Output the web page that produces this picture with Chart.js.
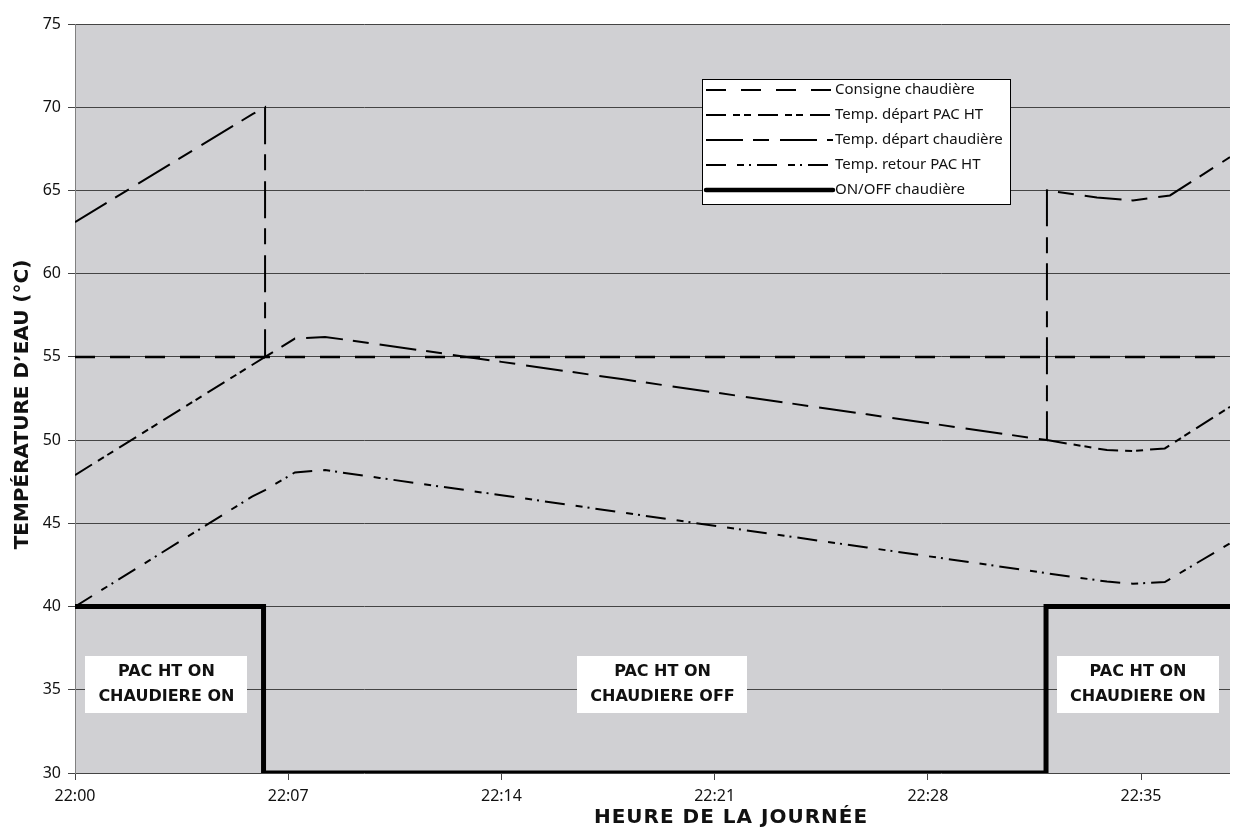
<!DOCTYPE html>
<html>
<head>
<meta charset="utf-8">
<script src="https://cdn.jsdelivr.net/npm/chart.js@4.4.1/dist/chart.umd.min.js"></script>
<style>
  html, body { margin: 0; padding: 0; background: #ffffff; }
  canvas { display: block; }
</style>
</head>
<body>
<canvas id="chart" width="1241" height="828"></canvas>
<script>
// Time is expressed in minutes after 22:00
const tickMinutes = [0, 7, 14, 21, 28, 35];
const tickLabels = ['22:00', '22:07', '22:14', '22:21', '22:28', '22:35'];
const timeEnd = 37.92;

// Boiler set point
const consigneTime = [0, 37.92];
const consigneTemp = [55, 55];

// Heat pump (PAC HT) flow temperature; while the boiler is off it runs
// under the boiler flow line, so only the visible parts are listed
const pacDepartTime = [0, 6.24, 19, 31.91, 33.88, 34.73, 35.78, 37.92];
const pacDepartTemp = [47.9, 55.0, null, 50.0, 49.4, 49.35, 49.5, 52.0];

// Boiler flow temperature
const chaudDepartTime = [0, 5.84, 6.24, 6.24, 7.22, 8.21, 10, 14, 18, 22, 26, 31.91, 31.91, 33.55, 34.73, 35.95, 37.92];
const chaudDepartTemp = [63.1, 69.6, 70.0, 55.0, 56.1, 56.2, 55.75, 54.7, 53.65, 52.6, 51.55, 50.0, 65.0, 64.57, 64.4, 64.7, 67.0];

// Heat pump return temperature
const retourTime = [0, 5.81, 6.24, 7.22, 8.21, 10, 14, 18, 22, 26, 31.91, 33.88, 34.73, 35.78, 37.92];
const retourTemp = [40.0, 46.6, 47.0, 48.06, 48.2, 47.73, 46.69, 45.64, 44.59, 43.55, 42.0, 41.5, 41.37, 41.47, 43.8];

// Boiler on/off state (40 = ON, 30 = OFF)
const onOffTime = [0, 6.19, 6.19, 31.88, 31.88, 37.92];
const onOffLevel = [40, 40, 30, 30, 40, 40];

const seriesNames = ['Consigne chaudière', 'Temp. départ PAC HT', 'Temp. départ chaudière', 'Temp. retour PAC HT', 'ON/OFF chaudière'];

// Operating phase captions
const phaseLines = [
  ['PAC HT ON', 'CHAUDIERE ON'],
  ['PAC HT ON', 'CHAUDIERE OFF'],
  ['PAC HT ON', 'CHAUDIERE ON']
];
const phaseCenter = [3.0, 19.29, 34.9];
const phaseLevel = 35.3;

const xTitle = 'HEURE DE LA JOURNÉE';
const yTitle = 'TEMPÉRATURE D’EAU (°C)';

const toPoints = (xs, ys) => xs.map((x, i) => ({ x: x, y: ys[i] }));

const TEXT = '#111111';
const GRID = '#444444';
const BOLD = '"DejaVu Sans"';

// Grey plotting area
const plotBackground = {
  id: 'plotBackground',
  beforeDraw(chart) {
    const { ctx, chartArea: a } = chart;
    ctx.save();
    ctx.fillStyle = '#d0d0d3';
    ctx.fillRect(a.left, a.top, a.right - a.left, a.bottom - a.top);
    ctx.restore();
  }
};

// White caption boxes for each operating phase
const phaseBoxes = {
  id: 'phaseBoxes',
  afterDatasetsDraw(chart) {
    const { ctx, scales } = chart;
    ctx.save();
    ctx.font = 'bold 16px ' + BOLD;
    ctx.textAlign = 'center';
    ctx.textBaseline = 'middle';
    phaseLines.forEach((lines, i) => {
      const cx = scales.x.getPixelForValue(phaseCenter[i]);
      const cy = scales.y.getPixelForValue(phaseLevel);
      const w = Math.max(...lines.map(t => ctx.measureText(t).width)) + 26;
      const h = 57;
      ctx.fillStyle = '#ffffff';
      ctx.fillRect(Math.round(cx - w / 2), Math.round(cy - h / 2), Math.round(w), h);
      ctx.fillStyle = TEXT;
      ctx.fillText(lines[0], cx, cy - 13);
      ctx.fillText(lines[1], cx, cy + 12);
    });
    ctx.restore();
  }
};

// Boxed legend inside the plotting area
const boxedLegend = {
  id: 'boxedLegend',
  afterDatasetsDraw(chart) {
    const { ctx, chartArea: a } = chart;
    const x0 = a.left + 627, y0 = a.top + 55, w = 309, h = 126;
    ctx.save();
    ctx.fillStyle = '#ffffff';
    ctx.fillRect(x0, y0, w, h);
    ctx.strokeStyle = '#000000';
    ctx.lineWidth = 1;
    ctx.strokeRect(x0 + 0.5, y0 + 0.5, w - 1, h - 1);
    chart.data.datasets.forEach((ds, i) => {
      const y = y0 + 11 + i * 25;
      ctx.strokeStyle = '#000000';
      ctx.lineWidth = ds.legendWidth;
      ctx.lineCap = ds.borderCapStyle || 'butt';
      ctx.setLineDash(ds.borderDash || []);
      ctx.beginPath();
      ctx.moveTo(x0 + 4, y);
      ctx.lineTo(x0 + 131, y);
      ctx.stroke();
      ctx.setLineDash([]);
      ctx.fillStyle = TEXT;
      ctx.font = '15px "Noto Sans"';
      ctx.textAlign = 'left';
      ctx.textBaseline = 'middle';
      ctx.fillText(ds.label, x0 + 133, y);
    });
    ctx.restore();
  }
};

// Axis titles
const axisTitles = {
  id: 'axisTitles',
  afterDraw(chart) {
    const { ctx, chartArea: a } = chart;
    ctx.save();
    ctx.fillStyle = TEXT;
    ctx.textAlign = 'center';
    ctx.textBaseline = 'middle';
    ctx.font = 'bold 20px ' + BOLD;
    if ('letterSpacing' in ctx) ctx.letterSpacing = '1px';
    ctx.fillText(xTitle, a.left + (a.right - a.left) * 0.568, chart.height - 10);
    if ('letterSpacing' in ctx) ctx.letterSpacing = '0px';
    ctx.translate(23, (a.top + a.bottom) / 2 + 6);
    ctx.rotate(-Math.PI / 2);
    ctx.fillText(yTitle, 0, 0);
    ctx.restore();
  }
};

const lineStyle = (label, pts, dash, width, legendWidth, extra) => Object.assign({
  label: label,
  data: pts,
  showLine: true,
  spanGaps: false,
  borderColor: '#000000',
  backgroundColor: '#000000',
  borderWidth: width,
  legendWidth: legendWidth,
  borderDash: dash,
  pointRadius: 0,
  pointHoverRadius: 0,
  tension: 0,
  fill: false
}, extra || {});

new Chart(document.getElementById('chart'), {
  type: 'scatter',
  data: {
    datasets: [
      lineStyle(seriesNames[0], toPoints(consigneTime, consigneTemp), [20, 15], 2.5, 2),
      lineStyle(seriesNames[1], toPoints(pacDepartTime, pacDepartTemp), [20, 7, 7, 4, 7, 7], 2, 2),
      lineStyle(seriesNames[2], toPoints(chaudDepartTime, chaudDepartTemp), [37, 10, 16, 11], 2, 2),
      lineStyle(seriesNames[3], toPoints(retourTime, retourTemp), [20, 11, 7, 5, 2, 6], 2, 2),
      lineStyle(seriesNames[4], toPoints(onOffTime, onOffLevel), [], 5, 4.5, { borderCapStyle: 'round', borderJoinStyle: 'miter' })
    ]
  },
  options: {
    responsive: false,
    animation: false,
    devicePixelRatio: 1,
    layout: { padding: { top: 24, right: 11, bottom: 0, left: 0 } },
    plugins: {
      legend: { display: false },
      tooltip: { enabled: false }
    },
    scales: {
      x: {
        type: 'linear',
        min: 0,
        max: timeEnd,
        afterBuildTicks: (scale) => { scale.ticks = tickMinutes.map(v => ({ value: v })); },
        afterFit: (scale) => { scale.height = 55; },
        ticks: {
          autoSkip: false,
          maxRotation: 0,
          padding: 7,
          color: TEXT,
          font: { family: 'Noto Sans', size: 16 },
          callback: (v) => tickLabels[tickMinutes.indexOf(v)]
        },
        grid: { drawOnChartArea: false, drawTicks: true, tickLength: 7, color: GRID },
        border: { display: false }
      },
      y: {
        min: 30,
        max: 75,
        afterFit: (scale) => { scale.width = 75; },
        ticks: {
          stepSize: 5,
          padding: 7,
          color: TEXT,
          font: { family: 'Noto Sans', size: 16 }
        },
        grid: { color: GRID, tickLength: 7, drawTicks: true },
        border: { display: true, color: '#808080', width: 1 }
      }
    }
  },
  plugins: [plotBackground, phaseBoxes, boxedLegend, axisTitles]
});
</script>
</body>
</html>
